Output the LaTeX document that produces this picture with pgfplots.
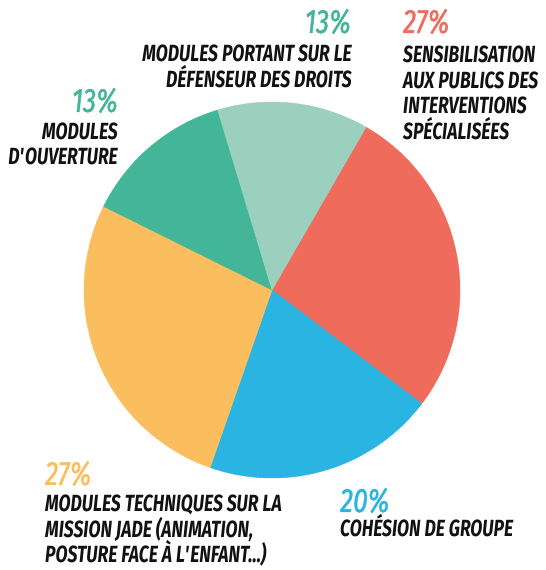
\documentclass[border=0pt]{standalone}
\usepackage{fontspec}
\setmainfont{Fira Sans}[FakeStretch=0.75]
\newfontfamily\pctfam{Fira Sans}[FakeStretch=0.78, FakeBold=1.2]
\usepackage{pgfplots}
\pgfplotsset{compat=1.18}
\definecolor{cteal}{RGB}{155,208,190}
\definecolor{cgreen}{RGB}{67,181,152}
\definecolor{cred}{RGB}{239,107,92}
\definecolor{cblue}{RGB}{41,180,226}
\definecolor{cyellow}{RGB}{251,190,94}
\definecolor{ctext}{RGB}{17,17,17}
\newcommand\labfont{\fontsize{23.5}{25.5}\selectfont\bfseries\itshape}
\newcommand\pctfont{\pctfam\fontsize{34}{34}\selectfont\itshape}
% one pie slice: #1 = percent, #2 = colour; slices go clockwise from \curang
\newcommand\pie[2]{%
  \pgfmathsetmacro\endang{\curang-3.6*#1}%
  \edef\tmp{\noexpand\addplot[fill=#2, draw=#2, line width=0.4pt, domain=\endang:\curang, samples=90]
    ({272+188*cos(x)},{-290+188*sin(x)}) -- (axis cs:272,-290) -- cycle;}%
  \tmp
  \xdef\curang{\endang}%
}
\begin{document}
\begin{tikzpicture}
\begin{axis}[scale only axis, width=545bp, height=570bp,
  xmin=0, xmax=545, ymin=-570, ymax=0, hide axis, clip=false]
\useasboundingbox (axis cs:0,0) rectangle (axis cs:545,-570);
\xdef\curang{60}
\pie{27}{cred}
\pie{20}{cblue}
\pie{27}{cyellow}
\pie{13}{cgreen}
\pie{13}{cteal}
% percentages
\node[anchor=base east, inner sep=0, text=cgreen, font=\pctfont] at (axis cs:351,-33) {13\%};
\node[anchor=base west, inner sep=0, text=cred, font=\pctfont] at (axis cs:403,-33) {27\%};
\node[anchor=base east, inner sep=0, text=cgreen, font=\pctfont] at (axis cs:118,-112) {13\%};
\node[anchor=base west, inner sep=0, text=cyellow, font=\pctfont] at (axis cs:45,-485) {27\%};
\node[anchor=base west, inner sep=0, text=cblue, font=\pctfont] at (axis cs:340,-512) {20\%};
% labels
\begin{scope}[every node/.style={inner sep=0, text=ctext, font=\labfont}]
\node[anchor=base east] at (axis cs:352,-62) {MODULES PORTANT SUR LE};
\node[anchor=base east] at (axis cs:352,-88) {DÉFENSEUR DES DROITS};
\node[anchor=base west] at (axis cs:403,-62.7) {SENSIBILISATION};
\node[anchor=base west] at (axis cs:403,-88.3) {AUX PUBLICS DES};
\node[anchor=base west] at (axis cs:403,-114) {INTERVENTIONS};
\node[anchor=base west] at (axis cs:403,-139.5) {SPÉCIALISÉES};
\node[anchor=base east] at (axis cs:118,-139.3) {MODULES};
\node[anchor=base east] at (axis cs:118,-165) {D\textquotesingle OUVERTURE};
\node[anchor=base west] at (axis cs:45,-511.7) {MODULES TECHNIQUES SUR LA};
\node[anchor=base west] at (axis cs:45,-537.3) {MISSION JADE (ANIMATION,};
\node[anchor=base west] at (axis cs:45,-562.7) {POSTURE FACE À L\textquotesingle ENFANT...)};
\node[anchor=base west] at (axis cs:340,-537) {COHÉSION DE GROUPE};
\end{scope}
\end{axis}
\end{tikzpicture}
\end{document}
